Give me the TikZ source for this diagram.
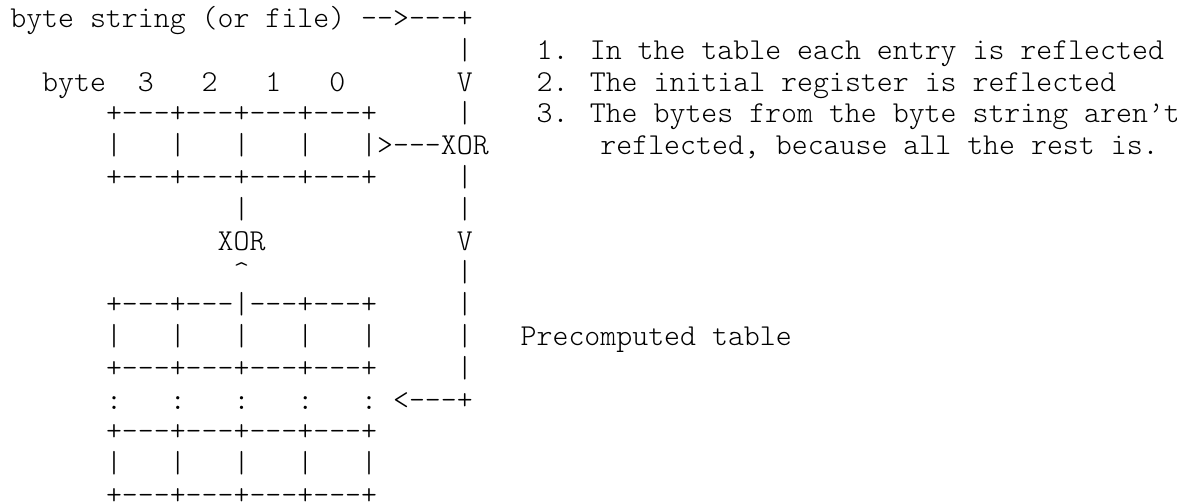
\documentclass[tikz,border=0pt]{standalone}
\newdimen\cw \cw=15.95pt
\newcommand\g[1]{\hspace*{#1\cw}}
\newcommand\dsh{-\kern0pt-\kern0pt-\kern0pt}
\newcommand\sepl{+\dsh+\dsh+\dsh+\dsh+}
\newcommand\bars{|\g{3}|\g{3}|\g{3}|\g{3}|}
\tikzset{row/.style={anchor=base west,inner sep=0pt,outer sep=0pt,
  font=\fontsize{30.38}{36}\fontseries{l}\ttfamily\selectfont}}
\begin{document}
\begin{tikzpicture}[x=1pt,y=1pt]
\useasboundingbox[fill=white] (0,0) rectangle (1177,502);
\node[row] (r0)  at (10.3,474.5) {byte string (or file) -\kern0pt-\kern0pt>\dsh+};
\node[row] (r1)  at (10.3,442.7) {\g{28}|\g{4}1. In the table each entry is reflected};
\node[row] (r2)  at (10.3,410.9) {\g{2}byte\g{2}3\g{3}2\g{3}1\g{3}0\g{7}V\g{4}2. The initial register is reflected};
\node[row] (r3)  at (10.3,379.1) {\g{6}\sepl\g{5}|\g{4}3. The bytes from the byte string aren’t};
\node[row] (r4)  at (10.3,347.3) {\g{6}\bars>\dsh XOR\g{7}reflected, because all the rest is.};
\node[row] (r5)  at (10.3,315.5) {\g{6}\sepl\g{5}|};
\node[row] (r6)  at (10.3,283.7) {\g{14}|\g{13}|};
\node[row] (r7)  at (10.3,251.9) {\g{13}XOR\g{12}V};
\node[row] (r8)  at (10.3,220.1) {\g{14}\textasciicircum\g{13}|};
\node[row] (r9)  at (10.3,188.3) {\g{6}+\dsh+\dsh|\dsh+\dsh+\g{5}|};
\node[row] (r10) at (10.3,156.5) {\g{6}\bars\g{5}|\g{3}Precomputed table};
\node[row] (r11) at (10.3,124.7) {\g{6}\sepl\g{5}|};
\node[row] (r12) at (10.3,92.9)  {\g{6}:\g{3}:\g{3}:\g{3}:\g{3}:\g{1}<\dsh+};
\node[row] (r13) at (10.3,61.1)  {\g{6}\sepl};
\node[row] (r14) at (10.3,29.3)  {\g{6}\bars};
\node[row] (r15) at (10.3,-2.5)  {\g{6}\sepl};
\end{tikzpicture}
\end{document}
